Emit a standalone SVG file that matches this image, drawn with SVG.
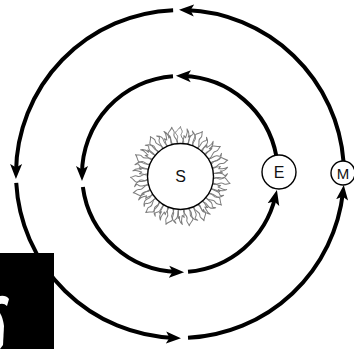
<svg xmlns="http://www.w3.org/2000/svg" xmlns:xlink="http://www.w3.org/1999/xlink" width="354" height="349" viewBox="0 0 354 349">
  <style>
    .orbit { fill: none; stroke: #000; stroke-width: 4; }
    .body { fill: #fff; stroke: #000; stroke-width: 1.4; }
    .label { font-family: "Liberation Sans", Arial, sans-serif; font-size: 16px; fill: #111; text-anchor: middle; dominant-baseline: central; }
    .flame { fill: none; stroke: #7c7c7c; stroke-width: 1; stroke-linejoin: round; }
  </style>
  <defs>
    <marker id="arrow" markerUnits="userSpaceOnUse" markerWidth="16" markerHeight="13" refX="8" refY="6.5" orient="auto">
      <path d="M0,0.5 L15,6.5 L0,12.5 L3.5,6.5 Z" fill="#000"/>
    </marker>
    <!-- flame tongues, pointing up from a sun of radius 34 -->
    <path id="f1" class="flame" d="M-3,-33 C-5,-37 -1,-39 -4,-42 S-2,-46 0,-50 C0,-47 3,-46 1,-43 S4.5,-37 3,-33"/>
    <path id="f2" class="flame" d="M-3,-33 C-1,-36 -4,-39 -2,-42 S1,-43 -2,-47 C1.5,-45 3,-43 2,-40 S1.5,-36 3,-33"/>
    <path id="f3" class="flame" d="M-3,-33 C-4,-36 -2,-38 -3,-41 L-1,-39 C-1,-42 1,-44 -1,-48 C2,-45 2,-42 1.5,-40 L3,-42 C3,-38 2,-36 3,-33"/>
  </defs>

  <g id="connectors">
    <!-- inner orbit (r = 98) -->
    <path class="orbit" marker-end="url(#arrow)" d="M276.4,156.3 A98,98 0 0 0 182.9,76"/>
    <path class="orbit" marker-end="url(#arrow)" d="M173,76.25 A98,98 0 0 0 82,174"/>
    <path class="orbit" marker-end="url(#arrow)" d="M82.86,186.96 A98,98 0 0 0 177.1,271.96"/>
    <path class="orbit" marker-end="url(#arrow)" d="M188.03,271.67 A98,98 0 0 0 275.29,196.88"/>
    <!-- outer orbit (r = 164) -->
    <path class="orbit" marker-end="url(#arrow)" d="M343.5,161.4 A164,164 0 0 0 186,10.1"/>
    <path class="orbit" marker-end="url(#arrow)" d="M173.13,10.14 A164,164 0 0 0 16.01,172"/>
    <path class="orbit" marker-end="url(#arrow)" d="M16.24,182.87 A164,164 0 0 0 173.99,337.89"/>
    <path class="orbit" marker-end="url(#arrow)" d="M188.01,337.8 A164,164 0 0 0 343,192"/>
  </g>

  <g id="sun" transform="translate(180.5,176.5)">
    <g id="corona">
      <use xlink:href="#f1" transform="rotate(0)"/>
      <use xlink:href="#f3" transform="rotate(9)"/>
      <use xlink:href="#f2" transform="rotate(17)"/>
      <use xlink:href="#f1" transform="rotate(26)"/>
      <use xlink:href="#f2" transform="rotate(36)"/>
      <use xlink:href="#f3" transform="rotate(44)"/>
      <use xlink:href="#f1" transform="rotate(53)"/>
      <use xlink:href="#f2" transform="rotate(63)"/>
      <use xlink:href="#f1" transform="rotate(71)"/>
      <use xlink:href="#f3" transform="rotate(80)"/>
      <use xlink:href="#f2" transform="rotate(89)"/>
      <use xlink:href="#f1" transform="rotate(98)"/>
      <use xlink:href="#f3" transform="rotate(107)"/>
      <use xlink:href="#f2" transform="rotate(116)"/>
      <use xlink:href="#f1" transform="rotate(125)"/>
      <use xlink:href="#f2" transform="rotate(134)"/>
      <use xlink:href="#f3" transform="rotate(143)"/>
      <use xlink:href="#f1" transform="rotate(152)"/>
      <use xlink:href="#f2" transform="rotate(161)"/>
      <use xlink:href="#f1" transform="rotate(170)"/>
      <use xlink:href="#f3" transform="rotate(179)"/>
      <use xlink:href="#f2" transform="rotate(188)"/>
      <use xlink:href="#f1" transform="rotate(197)"/>
      <use xlink:href="#f3" transform="rotate(206)"/>
      <use xlink:href="#f2" transform="rotate(215)"/>
      <use xlink:href="#f1" transform="rotate(224)"/>
      <use xlink:href="#f2" transform="rotate(233)"/>
      <use xlink:href="#f3" transform="rotate(242)"/>
      <use xlink:href="#f1" transform="rotate(251)"/>
      <use xlink:href="#f2" transform="rotate(260)"/>
      <use xlink:href="#f1" transform="rotate(269)"/>
      <use xlink:href="#f3" transform="rotate(278)"/>
      <use xlink:href="#f2" transform="rotate(287)"/>
      <use xlink:href="#f1" transform="rotate(296)"/>
      <use xlink:href="#f3" transform="rotate(305)"/>
      <use xlink:href="#f2" transform="rotate(314)"/>
      <use xlink:href="#f1" transform="rotate(323)"/>
      <use xlink:href="#f2" transform="rotate(332)"/>
      <use xlink:href="#f3" transform="rotate(341)"/>
      <use xlink:href="#f1" transform="rotate(350)"/>
    </g>
    <circle class="body" cx="0" cy="0" r="33"/>
    <text class="label" x="0" y="0">S</text>
  </g>

  <g id="earth">
    <circle class="body" cx="279" cy="172" r="17"/>
    <text class="label" x="279" y="172">E</text>
  </g>

  <g id="mars">
    <circle class="body" cx="343" cy="173" r="12"/>
    <text class="label" x="343" y="173" style="font-size:15px">M</text>
  </g>

  <g id="badge">
    <rect x="0" y="253" width="54" height="96" fill="#000"/>
    <path d="M0,296 Q6,295 9,299 L7,306 Q4,303 0,304 Z" fill="#fff"/>
    <path d="M0,313 Q3,318 4,326 L3,345 L0,349 Z" fill="#fff"/>
  </g>
</svg>
